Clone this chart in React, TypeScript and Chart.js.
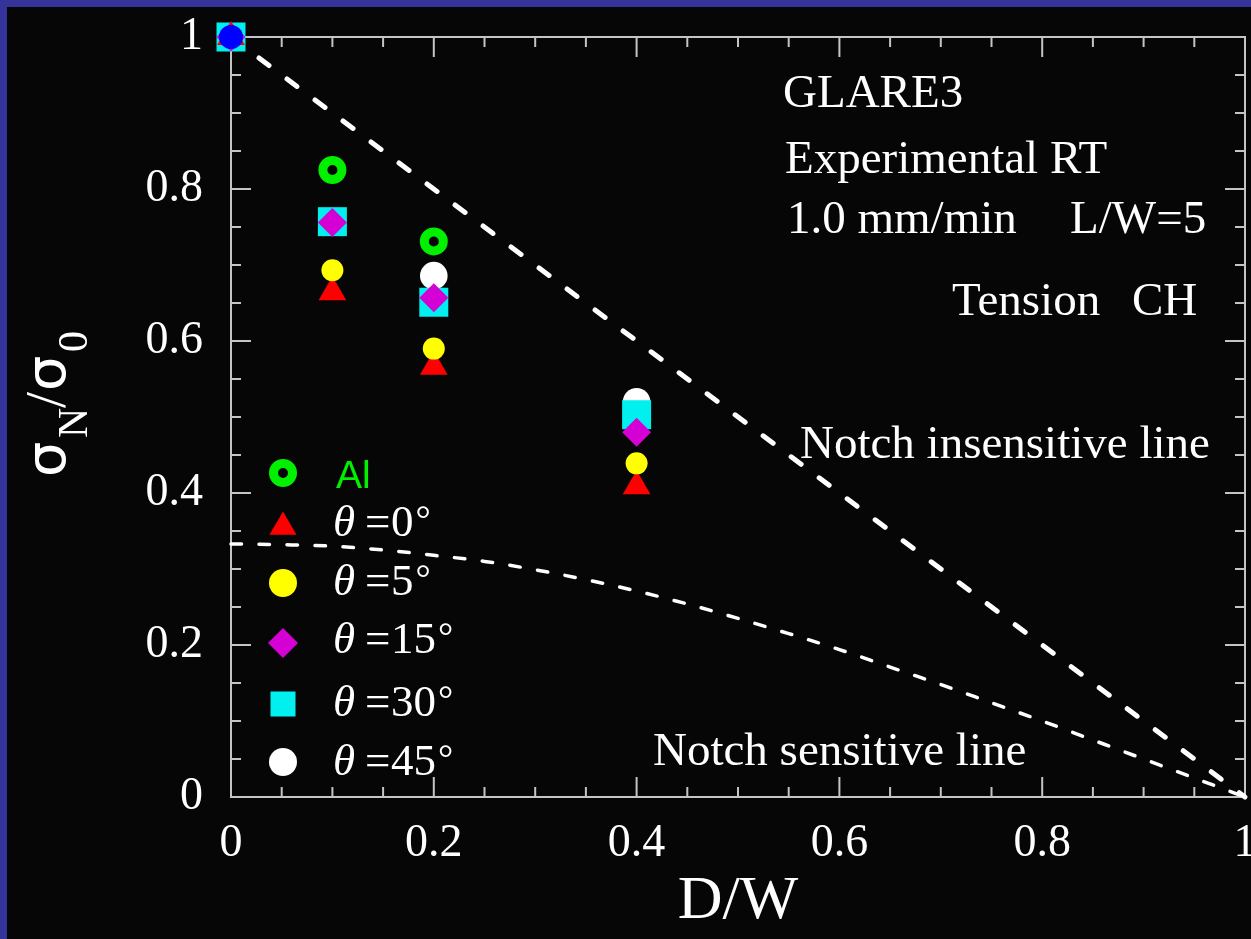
import { useEffect, useRef } from 'react';
import { Chart, registerables } from 'chart.js';

Chart.register(...registerables);

// ---------- data ----------
const dwValues = [0, 0.1, 0.2, 0.4];
const alValues = [1, 0.825, 0.731, null];
const theta0Values = [1, 0.664, 0.566, 0.409];
const theta5Values = [1, 0.693, 0.59, 0.439];
const theta15Values = [1, 0.756, 0.657, 0.48];
const theta30Values = [1, 0.757, 0.651, 0.503];
const theta45Values = [1, 0.757, 0.686, 0.52];
const referenceX = [0];
const referenceY = [1];

const insensitiveX = [0, 1];
const insensitiveY = [1, 0];

const sensitiveX = [0, 0.05, 0.1, 0.15, 0.2, 0.25, 0.3, 0.35, 0.4, 0.45, 0.5, 0.55, 0.6, 0.65, 0.7, 0.75, 0.8, 0.85, 0.9, 0.95, 1];
const sensitiveY = [0.333, 0.332, 0.33, 0.325, 0.318, 0.31, 0.299, 0.286, 0.271, 0.254, 0.235, 0.215, 0.194, 0.171, 0.148, 0.124, 0.1, 0.075, 0.05, 0.025, 0];

const xTickValues = [0, 0.2, 0.4, 0.6, 0.8, 1];
const yTickValues = [0, 0.2, 0.4, 0.6, 0.8, 1];

const legendLabels = ['Al', 'θ=0°', 'θ=5°', 'θ=15°', 'θ=30°', 'θ=45°'];
const xTitle = 'D/W';
const yTitleParts = ['σ', 'N', '/', 'σ', '0'];
const infoLines = ['GLARE3', 'Experimental RT', '1.0 mm/min', 'L/W=5', 'Tension', 'CH'];
const lineLabels = ['Notch insensitive line', 'Notch sensitive line'];

// ---------- styles ----------
const SERIF = "'Liberation Serif', 'Times New Roman', serif";
const SANS = "'Liberation Sans', Arial, sans-serif";
const BG = '#060606';
const BORDER_BLUE = '#333399';
const AXIS = '#c4c4c4';
const GREEN = '#00f000';
const RED = '#ff0000';
const YELLOW = '#ffff00';
const MAGENTA = '#d400d4';
const CYAN = '#00f0f0';
const WHITE = '#ffffff';
const BLUE = '#0000ff';

const toPoints = (xs: number[], ys: (number | null)[]) =>
  xs.map((x, i) => ({ x, y: ys[i] })).filter((p) => p.y !== null && p.y !== undefined);

function drawSymbol(ctx: CanvasRenderingContext2D, kind: string, cx: number, cy: number) {
  ctx.save();
  ctx.beginPath();
  if (kind === 'ring') {
    ctx.strokeStyle = GREEN;
    ctx.lineWidth = 9;
    ctx.arc(cx, cy, 9.5, 0, Math.PI * 2);
    ctx.stroke();
  } else if (kind === 'triangle') {
    const r = 15.6;
    ctx.fillStyle = RED;
    ctx.moveTo(cx, cy - r);
    ctx.lineTo(cx + r * Math.sin((2 * Math.PI) / 3), cy + r * 0.5);
    ctx.lineTo(cx - r * Math.sin((2 * Math.PI) / 3), cy + r * 0.5);
    ctx.closePath();
    ctx.fill();
  } else if (kind === 'yellow') {
    ctx.fillStyle = YELLOW;
    ctx.arc(cx, cy, 14, 0, Math.PI * 2);
    ctx.fill();
  } else if (kind === 'diamond') {
    const r = 15;
    ctx.fillStyle = MAGENTA;
    ctx.moveTo(cx - r, cy);
    ctx.lineTo(cx, cy - r);
    ctx.lineTo(cx + r, cy);
    ctx.lineTo(cx, cy + r);
    ctx.closePath();
    ctx.fill();
  } else if (kind === 'square') {
    ctx.fillStyle = CYAN;
    ctx.fillRect(cx - 12.5, cy - 12.5, 25, 25);
  } else if (kind === 'white') {
    ctx.fillStyle = WHITE;
    ctx.arc(cx, cy, 14, 0, Math.PI * 2);
    ctx.fill();
  }
  ctx.restore();
}

const framePlugin = {
  id: 'frameTicks',
  beforeDatasetsDraw(chart: any) {
    const { ctx, chartArea: a, scales } = chart;
    const xs = scales.x;
    const ys = scales.y;
    ctx.save();
    ctx.strokeStyle = AXIS;
    ctx.lineWidth = 2;
    ctx.strokeRect(a.left, a.top, a.right - a.left, a.bottom - a.top);
    ctx.beginPath();
    for (let i = 0; i <= 20; i++) {
      const v = i / 20;
      const len = i % 4 === 0 ? 20 : 10;
      const px = xs.getPixelForValue(v);
      ctx.moveTo(px, a.bottom);
      ctx.lineTo(px, a.bottom - len);
      ctx.moveTo(px, a.top);
      ctx.lineTo(px, a.top + len);
      const py = ys.getPixelForValue(v);
      ctx.moveTo(a.left, py);
      ctx.lineTo(a.left + len, py);
      ctx.moveTo(a.right, py);
      ctx.lineTo(a.right - len, py);
    }
    ctx.stroke();
    ctx.restore();
  },
};

const textPlugin = {
  id: 'texts',
  afterDatasetsDraw(chart: any) {
    const { ctx } = chart;
    ctx.save();
    ctx.textAlign = 'left';
    ctx.textBaseline = 'alphabetic';
    ctx.fillStyle = WHITE;

    // info block
    ctx.font = `47px ${SERIF}`;
    const infoPos = [
      [776, 100],
      [778, 166],
      [780, 226],
      [1063, 226],
      [945, 308],
      [1125, 308],
    ];
    infoLines.forEach((t, i) => ctx.fillText(t, infoPos[i][0], infoPos[i][1]));
    ctx.fillText(lineLabels[0], 793, 451);
    ctx.fillText(lineLabels[1], 646, 758);

    // legend
    const kinds = ['ring', 'triangle', 'yellow', 'diamond', 'square', 'white'];
    const symY = [466, 520, 576, 636, 697, 755];
    const textY = [481, 529, 588, 646, 709, 768];
    legendLabels.forEach((label, i) => {
      drawSymbol(ctx, kinds[i], 276, symY[i]);
      if (label.startsWith('θ')) {
        const x0 = 326;
        ctx.fillStyle = WHITE;
        ctx.font = `italic 45px ${SERIF}`;
        ctx.fillText('θ', x0, textY[i]);
        ctx.font = `45px ${SERIF}`;
        ctx.fillText('=', x0 + 32, textY[i]);
        const rest = label.slice(2, -1);
        ctx.fillText(rest, x0 + 58, textY[i]);
        const w = ctx.measureText(rest).width;
        ctx.font = `38px ${SERIF}`;
        ctx.fillText('°', x0 + 60 + w, textY[i] - 4);
      } else {
        ctx.fillStyle = GREEN;
        ctx.font = `39px ${SANS}`;
        ctx.fillText(label, 329, textY[i]);
      }
    });

    // y axis title (rotated, with subscripts)
    ctx.fillStyle = WHITE;
    ctx.translate(58, 470);
    ctx.rotate(-Math.PI / 2);
    ctx.font = `56px 'DejaVu Sans', sans-serif`;
    ctx.fillText(yTitleParts[0], 0, 0);
    ctx.font = `42px ${SERIF}`;
    ctx.fillText(yTitleParts[1], 39, 22);
    ctx.font = `58px ${SERIF}`;
    ctx.fillText(yTitleParts[2], 69, 0);
    ctx.font = `56px 'DejaVu Sans', sans-serif`;
    ctx.fillText(yTitleParts[3], 86, 0);
    ctx.font = `42px ${SERIF}`;
    ctx.fillText(yTitleParts[4], 125, 22);
    ctx.restore();
  },
};

function makeConfig(): any {
  const pointSet = (label: string, ys: (number | null)[], style: string, radius: number, color: string, order: number, extra: any = {}) => ({
    label,
    data: toPoints(dwValues, ys),
    pointStyle: style,
    pointRadius: radius,
    pointHoverRadius: radius,
    pointBackgroundColor: color,
    pointBorderColor: color,
    pointBorderWidth: 0,
    showLine: false,
    clip: false,
    order,
    ...extra,
  });

  const tickLabel = (v: number | string) => `${Number(v)}`;

  return {
    type: 'scatter',
    data: {
      datasets: [
        {
          label: lineLabels[0],
          data: toPoints(insensitiveX, insensitiveY),
          showLine: true,
          borderColor: WHITE,
          borderWidth: 5,
          borderDash: [12.5, 22.5],
          borderCapStyle: 'round',
          pointRadius: 0,
          fill: false,
          clip: false,
          order: 20,
        },
        {
          label: lineLabels[1],
          data: toPoints(sensitiveX, sensitiveY),
          showLine: true,
          borderColor: WHITE,
          borderWidth: 3.5,
          borderDash: [10.5, 17.5],
          borderCapStyle: 'round',
          cubicInterpolationMode: 'monotone',
          pointRadius: 0,
          fill: false,
          clip: false,
          order: 19,
        },
        pointSet(legendLabels[0], alValues, 'circle', 9.5, GREEN, 9, {
          pointBackgroundColor: 'rgba(0,0,0,0)',
          pointBorderWidth: 9,
          pointBorderColor: GREEN,
        }),
        pointSet(legendLabels[5], theta45Values, 'circle', 13.8, WHITE, 8),
        pointSet(legendLabels[4], theta30Values, 'rect', 20.5, CYAN, 7),
        pointSet(legendLabels[3], theta15Values, 'rectRot', 14.5, MAGENTA, 6),
        pointSet(legendLabels[1], theta0Values, 'triangle', 16, RED, 5),
        pointSet(legendLabels[2], theta5Values, 'circle', 11, YELLOW, 4),
        {
          label: 'reference',
          data: toPoints(referenceX, referenceY),
          pointStyle: 'circle',
          pointRadius: 12,
          pointBackgroundColor: BLUE,
          pointBorderWidth: 0,
          showLine: false,
          clip: false,
          order: 1,
        },
      ],
    },
    options: {
      responsive: false,
      animation: false,
      devicePixelRatio: 1,
      events: [],
      layout: { autoPadding: false, padding: { left: 0, top: 30, right: 6, bottom: 0 } },
      plugins: {
        legend: { display: false },
        tooltip: { enabled: false },
        title: { display: false },
      },
      scales: {
        x: {
          type: 'linear',
          position: 'bottom',
          min: 0,
          max: 1,
          afterBuildTicks: (s: any) => {
            s.ticks = xTickValues.map((value) => ({ value }));
          },
          afterFit: (s: any) => {
            s.height = 142;
            s.paddingLeft = 0;
            s.paddingRight = 0;
          },
          grid: { display: false, drawTicks: false },
          border: { display: false },
          ticks: {
            color: WHITE,
            padding: 19,
            maxRotation: 0,
            autoSkip: false,
            callback: tickLabel,
            font: { family: SERIF, size: 46 },
          },
          title: {
            display: true,
            text: xTitle,
            color: WHITE,
            padding: { top: 0, bottom: 0 },
            font: { family: SERIF, size: 62 },
          },
        },
        y: {
          type: 'linear',
          position: 'left',
          min: 0,
          max: 1,
          afterBuildTicks: (s: any) => {
            s.ticks = yTickValues.map((value) => ({ value }));
          },
          afterFit: (s: any) => {
            s.width = 224;
            s.paddingTop = 0;
            s.paddingBottom = 0;
          },
          grid: { display: false, drawTicks: false },
          border: { display: false },
          ticks: {
            color: WHITE,
            padding: 28,
            autoSkip: false,
            callback: tickLabel,
            font: { family: SERIF, size: 46 },
          },
        },
      },
    },
    plugins: [framePlugin, textPlugin],
  };
}

export default function App() {
  const canvasRef = useRef<HTMLCanvasElement | null>(null);

  useEffect(() => {
    if (!canvasRef.current) return;
    const chart = new Chart(canvasRef.current, makeConfig());
    return () => chart.destroy();
  }, []);

  return (
    <div
      style={{
        position: 'fixed',
        left: 0,
        top: 0,
        width: 1251,
        height: 939,
        background: BORDER_BLUE,
        overflow: 'hidden',
      }}
    >
      <div
        style={{
          position: 'absolute',
          left: 7,
          top: 7,
          width: 1244,
          height: 932,
          background: BG,
        }}
      >
        <canvas ref={canvasRef} width={1244} height={932} style={{ display: 'block' }} />
      </div>
    </div>
  );
}
